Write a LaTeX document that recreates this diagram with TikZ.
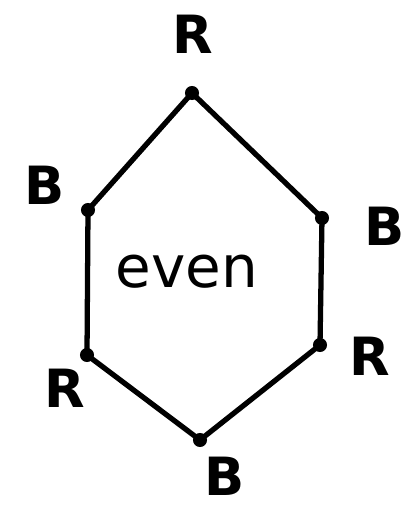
\documentclass[tikz,border=0pt]{standalone}
\usepackage{fontspec}
\setmainfont{DejaVu Sans}
\usepackage{tikz}

\begin{document}
\begin{tikzpicture}[x=0.02cm, y=-0.02cm,
  vert/.style={circle, fill=black, inner sep=0pt, minimum size=8pt},
  edge/.style={line width=3pt, line cap=round, line join=round},
  lbl/.style={inner sep=1pt, font=\fontsize{30}{32}\selectfont\bfseries},
  word/.style={font=\fontsize{33}{36}\selectfont}
]
  \useasboundingbox (0,0) rectangle (415,508);
  \node[vert] (t)  at (192,93)  {};
  \node[vert] (ur) at (322,218) {};
  \node[vert] (lr) at (320,345) {};
  \node[vert] (b)  at (200,440) {};
  \node[vert] (ll) at (87,355)  {};
  \node[vert] (ul) at (88,210)  {};
  \draw[edge] (t.center) -- (ur.center) -- (lr.center) -- (b.center)
              -- (ll.center) -- (ul.center) -- cycle;
  \node[lbl] (lt)  at (193,34)  {R};
  \node[lbl] (lul) at (45,185)  {B};
  \node[lbl] (lur) at (385,226) {B};
  \node[lbl] (llr) at (370,356) {R};
  \node[lbl] (lll) at (65,388)  {R};
  \node[lbl] (lb)  at (225,476) {B};
  \node[word] (w) at (187,272) {even};
\end{tikzpicture}
\end{document}
